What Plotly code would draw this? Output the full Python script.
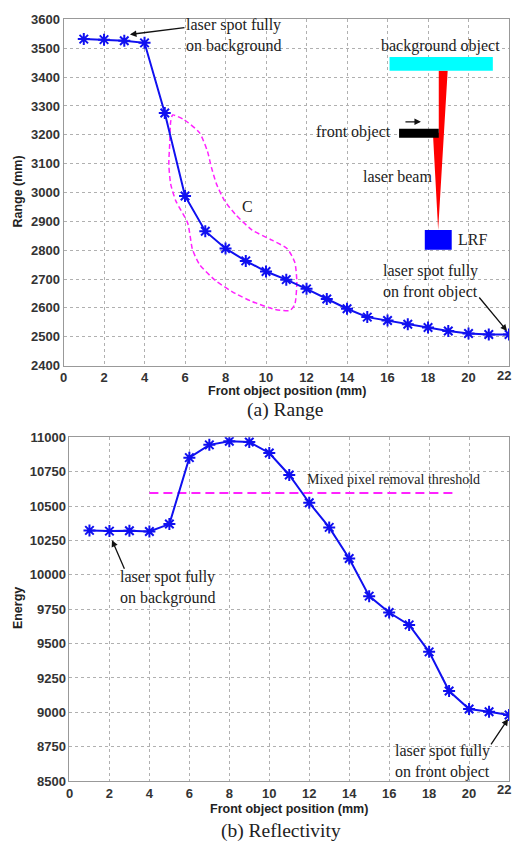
import plotly.graph_objects as go

# ---------------- data ----------------
positions = list(range(1, 23))
range_mm = [3532, 3530, 3526, 3519, 3276, 2988, 2866, 2806, 2763, 2726, 2698,
            2666, 2631, 2597, 2568, 2556, 2543, 2532, 2520, 2511, 2508, 2508]
energy = [10323, 10318, 10320, 10315, 10369, 10852, 10945, 10971, 10966, 10886,
          10726, 10524, 10345, 10119, 9845, 9726, 9636, 9440, 9155, 9024, 9005, 8981]

threshold_x = [4, 19.2]
threshold_y = [10595, 10595]

# mixed-pixel region "C" outline (data coords)
loop_x = [5.39, 5.98, 6.72, 7.11, 7.3, 7.55, 7.94, 8.48, 9.31, 10.29, 11.05, 11.42,
          11.52, 11.42, 11.18, 10.44, 9.31, 8.48, 7.5, 6.72, 6.37, 6.13, 5.54, 5.29,
          5.2, 5.25, 5.29, 5.39]
loop_y = [3269, 3251, 3207, 3142, 3088, 3030, 2973, 2925, 2870, 2835, 2805, 2758,
          2690, 2612, 2591, 2595, 2622, 2650, 2695, 2750, 2802, 2894, 2972, 3030,
          3098, 3177, 3245, 3269]

x_ticks = list(range(0, 23, 2))
range_ticks = list(range(2400, 3601, 100))
energy_ticks = list(range(8500, 11001, 250))

# schematic inset (top chart, data coords)
bg_rect = [16.1, 3422, 21.2, 3470]
front_rect = [16.57, 3190, 18.53, 3221]
lrf_rect = [17.84, 2802, 19.17, 2870]
beam_x = [18.53, 18.97, 18.5, 18.24, 18.53]
beam_y = [3422, 3422, 2870, 3207, 3207]

W, H = 513, 852
BLUE = "#1010f0"
MAG = "#ff22ff"
GRID = "#b0b0b0"
SERIF = "Liberation Serif"
SANS = "Liberation Sans"
TICKSIZE = 13

fig = go.Figure()

# top chart
fig.add_trace(go.Scatter(x=loop_x, y=loop_y, mode="lines", line=dict(color=MAG, width=1.5, dash="5px,3px", shape="spline", smoothing=0.6),
                         xaxis="x", yaxis="y", showlegend=False, hoverinfo="skip"))
fig.add_trace(go.Scatter(x=beam_x, y=beam_y, mode="lines", fill="toself", fillcolor="#ff0000",
                         line=dict(color="#ff0000", width=0), xaxis="x", yaxis="y", showlegend=False, hoverinfo="skip"))
fig.add_trace(go.Scatter(x=positions, y=range_mm, mode="lines+markers",
                         line=dict(color=BLUE, width=2),
                         marker=dict(symbol="asterisk-open", size=10, line=dict(color=BLUE, width=2)),
                         xaxis="x", yaxis="y", showlegend=False))

# bottom chart
fig.add_trace(go.Scatter(x=threshold_x, y=threshold_y, mode="lines", line=dict(color=MAG, width=2, dash="9px,5px"),
                         xaxis="x2", yaxis="y2", showlegend=False, hoverinfo="skip"))
fig.add_trace(go.Scatter(x=positions, y=energy, mode="lines+markers",
                         line=dict(color=BLUE, width=2),
                         marker=dict(symbol="asterisk-open", size=10, line=dict(color=BLUE, width=2)),
                         xaxis="x2", yaxis="y2", showlegend=False))

axis_common = dict(showgrid=True, gridcolor=GRID, griddash="dot", gridwidth=1,
                   showline=True, linecolor="#999999", linewidth=1, mirror=True,
                   ticks="", zeroline=False,
                   tickformat="d",
                   tickfont=dict(family=SANS, size=TICKSIZE, color="#333333", weight="bold"))

fig.update_layout(
    width=W, height=H, margin=dict(l=0, r=0, t=0, b=0),
    paper_bgcolor="white", plot_bgcolor="white",
    xaxis=dict(domain=[60 / W, 509 / W], range=[0, 22], tickvals=x_ticks, anchor="y", **axis_common),
    yaxis=dict(domain=[1 - 365 / H, 1 - 12.7 / H], range=[2400, 3600], tickvals=range_ticks, anchor="x", **axis_common),
    xaxis2=dict(domain=[66 / W, 509 / W], range=[0, 22], tickvals=x_ticks, anchor="y2", **axis_common),
    yaxis2=dict(domain=[1 - 788 / H, 1 - 438 / H], range=[8500, 11000], tickvals=energy_ticks, anchor="x2", **axis_common),
)

shapes = []
for r, col in [(bg_rect, "#00ffff"), (front_rect, "#000000"), (lrf_rect, "#0000ff")]:
    shapes.append(dict(type="rect", xref="x", yref="y", x0=r[0], y0=r[1], x1=r[2], y1=r[3],
                       fillcolor=col, line=dict(width=0), layer="above"))
fig.update_layout(shapes=shapes)

ann = []
def txt(x, y, s, xref="x", yref="y", size=16, xa="left", ya="middle", family=SERIF, bold=False, angle=0, color="#222222"):
    ann.append(dict(x=x, y=y, xref=xref, yref=yref, text=s, showarrow=False, xanchor=xa, yanchor=ya,
                    align="left", textangle=angle,
                    font=dict(family=family, size=size, color=color, weight="bold" if bold else "normal")))

def arrow(x, y, ax, ay, xref="x", yref="y"):
    ann.append(dict(x=x, y=y, xref=xref, yref=yref, ax=ax, ay=ay, text="", showarrow=True,
                    arrowhead=2, arrowsize=1, arrowwidth=1.3, arrowcolor="#111111"))

# top annotations
txt(5.95, 3544, "laser spot fully<br>on background")
arrow(3.28, 3548, 56, -7)
txt(15.7, 2693, "laser spot fully<br>on front object")
arrow(21.9, 2520, -29, -35)
txt(9.1, 2952, "C", size=16, xa="center")
txt(18.6, 3507, "background object", xa="center")
txt(16.27, 3211, "front object", xa="right")
arrow(17.65, 3245, -17, 0)
txt(16.5, 3054, "laser beam", xa="center")
txt(19.36, 2836, "LRF")

# bottom annotations
txt(2.45, 9909, "laser spot fully<br>on background", xref="x2", yref="y2")
arrow(2.13, 10252, 13, 30, xref="x2", yref="y2")
txt(16.2, 8641, "laser spot fully<br>on front object", xref="x2", yref="y2")
arrow(21.95, 8952, -18, 27, xref="x2", yref="y2")
txt(11.77, 10695, "Mixed pixel removal threshold", xref="x2", yref="y2", size=14)

# the "22" tick labels at the right edge (clipped in the original)
txt(1.0, 1 - 375 / H, str(x_ticks[-1]), xref="paper", yref="paper", size=TICKSIZE, xa="right", family=SANS, bold=True, color="#333333")
txt(1.0, 1 - 797 / H, str(x_ticks[-1]), xref="paper", yref="paper", size=TICKSIZE, xa="right", family=SANS, bold=True, color="#333333")

# axis titles and captions (paper coords)
txt(285 / W, 1 - 391 / H, "Front object position (mm)", xref="paper", yref="paper", size=12.5, xa="center", family=SANS, bold=True)
txt(287 / W, 1 - 816 / H, "Front object position (mm)", xref="paper", yref="paper", size=12.5, xa="center", family=SANS, bold=True)
txt(14 / W, 1 - 188 / H, "Range (mm)", xref="paper", yref="paper", size=12.5, xa="center", family=SANS, bold=True, angle=-90)
txt(14 / W, 1 - 612 / H, "Energy", xref="paper", yref="paper", size=12.5, xa="center", family=SANS, bold=True, angle=-90)
txt(283 / W, 1 - 410 / H, "(a) Range", xref="paper", yref="paper", size=19.5, xa="center")
txt(279 / W, 1 - 839 / H, "(b) Reflectivity", xref="paper", yref="paper", size=19.5, xa="center")

fig.update_layout(annotations=ann)
fig.write_html("out.html")
